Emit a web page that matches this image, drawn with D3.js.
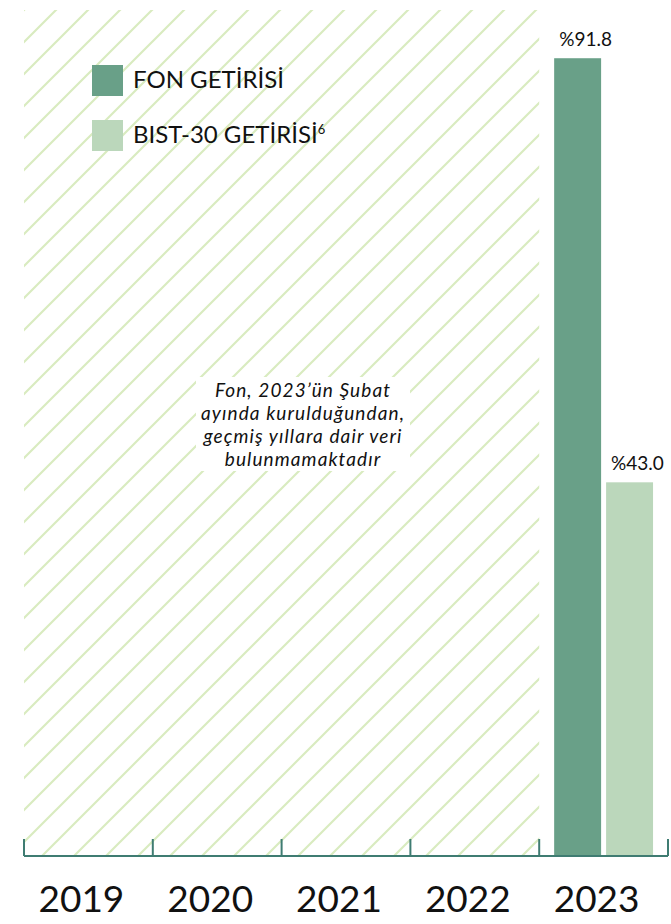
<!DOCTYPE html>
<html>
<head>
<meta charset="utf-8">
<script src="https://cdn.jsdelivr.net/npm/d3@7"></script>
<style>
body { margin: 0; background: #fff; }
svg { display: block; font-family: "Source Sans Pro", Lato, "Noto Sans", sans-serif; }
</style>
</head>
<body>
<svg width="671" height="924"></svg>
<script>
var years = ["2019", "2020", "2021", "2022", "2023"];
var series = ["FON GETİRİSİ", "BIST-30 GETİRİSİ"];
var fonValues = [null, null, null, null, 91.8];
var bistValues = [null, null, null, null, 43.0];
var noDataYears = ["2019", "2020", "2021", "2022"];
var noteLines = ["Fon, 2023’ün Şubat", "ayında kurulduğundan,", "geçmiş yıllara dair veri", "bulunmamaktadır"];
var colors = ["#69a088", "#bbd7bb"];

var svg = d3.select("svg");
var axisY = 856;

var x = d3.scaleBand().domain(years).range([24, 668]).padding(0);
var x1 = d3.scaleBand().domain(series).range([0, x.bandwidth()])
    .paddingInner(0.096).paddingOuter(0.288);
var y = d3.scaleLinear().domain([0, 98.5]).range([axisY, 0]);

// hatch pattern for years without data
var defs = svg.append("defs");
var pat = defs.append("pattern")
    .attr("id", "hatch")
    .attr("patternUnits", "userSpaceOnUse")
    .attr("width", 32).attr("height", 32)
    .attr("x", 24).attr("y", 10);
pat.append("path")
    .attr("d", "M-8,8 L8,-8 M0,32 L32,0 M24,40 L40,24")
    .attr("stroke", "#d9ebc0")
    .attr("stroke-width", 2.2);

svg.append("rect")
    .attr("x", x(noDataYears[0]))
    .attr("y", 10)
    .attr("width", x(noDataYears[noDataYears.length - 1]) + x.bandwidth() - x(noDataYears[0]))
    .attr("height", axisY - 10)
    .attr("fill", "url(#hatch)");

// note box
svg.append("rect")
    .attr("x", 196).attr("y", 377)
    .attr("width", 214).attr("height", 94)
    .attr("fill", "#fff");

svg.append("g")
    .selectAll("text")
    .data(noteLines)
    .enter()
    .append("text")
    .attr("x", 303)
    .attr("y", function(d, i) { return 397 + i * 23; })
    .attr("text-anchor", "middle")
    .attr("font-size", 19)
    .attr("letter-spacing", 1.1)
    .attr("font-style", "italic")
    .attr("fill", "#111")
    .text(function(d) { return d; });

// bars
var barData = [];
years.forEach(function(yr, i) {
    if (fonValues[i] != null) barData.push({year: yr, key: series[0], value: fonValues[i], color: colors[0]});
    if (bistValues[i] != null) barData.push({year: yr, key: series[1], value: bistValues[i], color: colors[1]});
});

svg.append("g")
    .selectAll("rect")
    .data(barData)
    .enter()
    .append("rect")
    .attr("x", function(d) { return x(d.year) + x1(d.key); })
    .attr("y", function(d) { return y(d.value); })
    .attr("width", x1.bandwidth())
    .attr("height", function(d) { return axisY - y(d.value); })
    .attr("fill", function(d) { return d.color; });

svg.append("g")
    .selectAll("text")
    .data(barData)
    .enter()
    .append("text")
    .attr("x", function(d) { return x(d.year) + x1(d.key) + 5; })
    .attr("y", function(d) { return y(d.value) - 12; })
    .attr("font-size", 19)
    .attr("fill", "#111")
    .text(function(d) { return "%" + d.value.toFixed(1); });

// axis
var tickXs = years.map(function(d) { return x(d); }).concat([x.range()[1]]);
var axis = svg.append("g").attr("stroke", "#3f7c72").attr("stroke-width", 2);
axis.append("line")
    .attr("x1", x.range()[0]).attr("x2", x.range()[1])
    .attr("y1", axisY).attr("y2", axisY);
axis.selectAll(".tick")
    .data(tickXs)
    .enter()
    .append("line")
    .attr("x1", function(d) { return d; }).attr("x2", function(d) { return d; })
    .attr("y1", axisY - 17).attr("y2", axisY);

svg.append("g")
    .selectAll("text")
    .data(years)
    .enter()
    .append("text")
    .attr("x", function(d) { return x(d) + x.bandwidth() / 2 - 7; })
    .attr("y", 912)
    .attr("text-anchor", "middle")
    .attr("font-size", 37)
    .attr("fill", "#111")
    .text(function(d) { return d; });

// legend
var legend = svg.append("g");
series.forEach(function(s, i) {
    var ly = 65 + i * 55;
    legend.append("rect")
        .attr("x", 92).attr("y", ly)
        .attr("width", 31).attr("height", 31)
        .attr("fill", colors[i]);
    var t = legend.append("text")
        .attr("x", 133).attr("y", ly + 23)
        .attr("font-size", 24)
        .attr("fill", "#111")
        .text(s);
    if (i === 1) {
        t.append("tspan").attr("font-size", 13).attr("dy", -9).text("6");
    }
});
</script>
</body>
</html>
